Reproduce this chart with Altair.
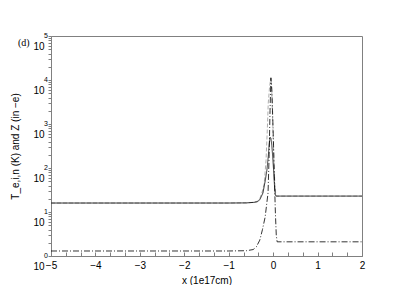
import altair as alt
import pandas as pd

# Solid black curve
te_x = [-5, -1.0, -0.6, -0.45, -0.36, -0.3, -0.23, -0.18, -0.14, -0.11, -0.09, -0.07, -0.05, -0.03, -0.01, 0.01, 0.03, 0.05, 0.07, 2]
te_y = [16, 16, 16.1, 16.5, 17, 19, 27, 50, 90, 180, 330, 500, 470, 330, 180, 90, 40, 24, 23, 23]

# Gray dashed curve
ti_x = [-5, -1.0, -0.6, -0.45, -0.36, -0.3, -0.24, -0.2, -0.16, -0.13, -0.11, -0.08, -0.05, -0.035, -0.02, 0.0, 0.02, 0.04, 0.06, 0.08, 2]
ti_y = [16, 16, 16.1, 16.6, 17.5, 20, 30, 45, 150, 800, 3000, 7000, 11500, 7000, 2500, 500, 120, 40, 25, 23, 23]

# Black dash-dot curve
z_x = [-5, -1.0, -0.6, -0.45, -0.38, -0.3, -0.24, -0.18, -0.115, -0.09, -0.07, -0.05, -0.03, -0.01, 0.01, 0.03, 0.05, 0.07, 0.09, 2]
z_y = [1.3, 1.3, 1.32, 1.4, 1.6, 2.3, 4.0, 7.7, 27, 200, 2000, 11000, 6000, 1500, 300, 50, 10, 3, 2.1, 2.1]

series_names = ["T_i", "T_e", "Z"]
series_colors = ["#999999", "#000000", "#000000"]
series_dash = [[4, 2], [1, 0], [6, 2, 1, 2]]

x_labels = [-5, -4, -3, -2, -1, 0, 1, 2]
x_minor = [round(-5 + i / 3, 4) for i in range(22)]
y_decades = [1, 10, 100, 1000, 10000, 100000]
y_exponents = ["0", "1", "2", "3", "4", "5"]
y_ticks = [k * d for d in [1, 10, 100, 1000, 10000] for k in range(1, 10)] + [100000]

rows = []
for name, xs, ys in [("T_i", ti_x, ti_y), ("T_e", te_x, te_y), ("Z", z_x, z_y)]:
    for i, (a, b) in enumerate(zip(xs, ys)):
        rows.append({"series": name, "x": a, "y": b, "i": i})
df = pd.DataFrame(rows)

xscale = alt.Scale(domain=[-5, 2], nice=False, zero=False)
yscale = alt.Scale(type="log", domain=[1, 100000], nice=False)
gray = "#808080"
FONT = "Liberation Sans"

yaxis = alt.Axis(
    values=y_ticks, grid=False, domainColor=gray, tickColor=gray, tickSize=3,
    labelExpr="indexof([1,10,100,1000,10000,100000], datum.value) >= 0 ? '10' : ''",
    labelFontSize=10, labelColor="black", labelPadding=4, labelFlush=False,
    labelOverlap=False, labelBaseline="alphabetic", labelOffset=13, labelFont=FONT,
    title="T_e,i,n (K) and Z (in \u2212e)", titleFont=FONT, titleFontSize=10,
    titleFontWeight="normal", titleColor="black", titlePadding=12)

lines = alt.Chart(df).mark_line(strokeWidth=0.8, clip=True).encode(
    x=alt.X("x:Q", scale=xscale, axis=alt.Axis(
        values=x_labels, ticks=False, grid=False, domainColor=gray,
        labelFontSize=10, labelColor="black", labelPadding=4, labelFlush=False,
        labelFont=FONT, title="x (1e17cm)", titleFont=FONT, titleFontSize=10,
        titleFontWeight="normal", titleColor="black", titlePadding=5)),
    y=alt.Y("y:Q", scale=yscale, axis=yaxis),
    color=alt.Color("series:N", scale=alt.Scale(domain=series_names, range=series_colors), legend=None),
    strokeDash=alt.StrokeDash("series:N", scale=alt.Scale(domain=series_names, range=series_dash), legend=None),
    order="i:Q",
)

tick_df = pd.DataFrame({"x": x_minor})
xticks = alt.Chart(tick_df).mark_point(opacity=0).encode(
    x=alt.X("x:Q", scale=xscale, axis=alt.Axis(
        orient="top", offset=-220, values=x_minor, labels=False, domain=False,
        grid=False, tickColor=gray, tickSize=4, title=None)),
)

exp_df = pd.DataFrame({"y": y_decades, "e": y_exponents})
exps = alt.Chart(exp_df).mark_text(align="right", baseline="middle", fontSize=7,
                                   font=FONT, color="black").encode(
    y=alt.Y("y:Q", scale=yscale, axis=yaxis),
    x=alt.value(-3),
    text="e:N",
)

chart = alt.layer(lines, xticks, exps).resolve_axis(x="independent").properties(
    width=311, height=220,
    autosize="none",
    padding={"left": 43, "top": 28, "right": 44, "bottom": 29},
    title=alt.TitleParams("(d)", anchor="start", frame="group", dx=-33, dy=20,
                          fontSize=10, fontWeight="normal", font="Liberation Serif", color="black"),
).configure_view(stroke=gray, strokeWidth=1)

chart.save("out.html", embed_options={"renderer": "svg", "actions": False})
